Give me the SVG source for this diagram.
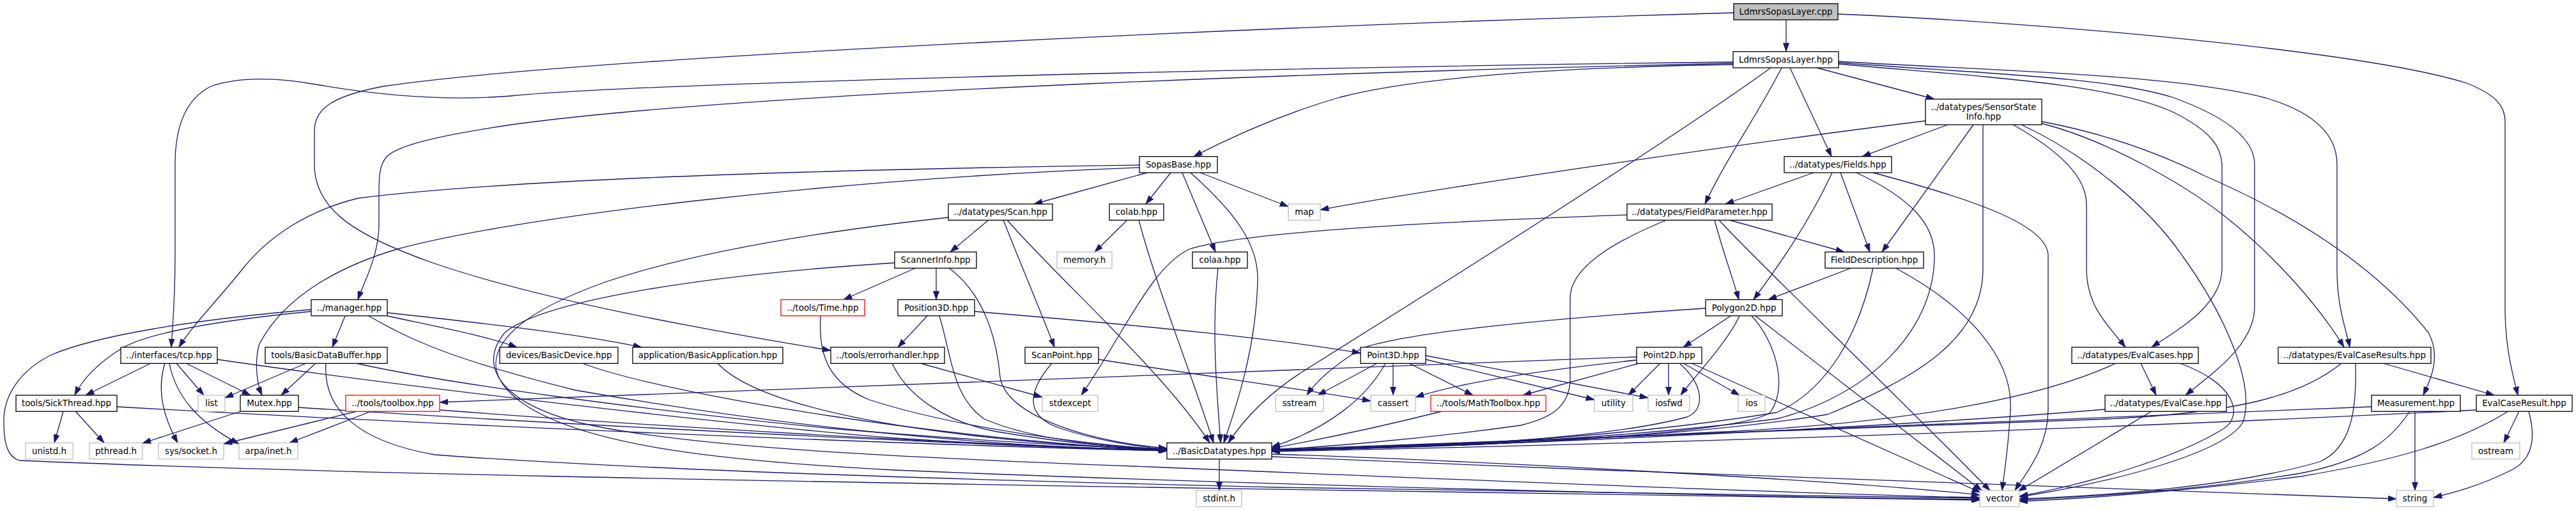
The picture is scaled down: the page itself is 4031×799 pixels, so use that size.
<svg xmlns="http://www.w3.org/2000/svg" width="4031" height="799" viewBox="0 0 4031 799">
<style>
.n rect{fill:#fff;stroke:#000;stroke-width:1.3}
.g rect{fill:#fff;stroke:#bfbfbf;stroke-width:1.3}
.r rect{fill:#fff;stroke:#ff0000;stroke-width:1.3}
.root rect{fill:#bfbfbf;stroke:#000;stroke-width:1.3}
text{font-family:"DejaVu Sans","Liberation Sans",sans-serif;font-size:13.33px;fill:#000;text-anchor:middle}
#edges path{fill:none;stroke:#191970;stroke-width:1.3;marker-end:url(#a)}
</style>
<defs>
<marker id="a" viewBox="0 0 10 7" refX="10" refY="3.5" markerWidth="13.3" markerHeight="9.3" markerUnits="userSpaceOnUse" orient="auto">
<path d="M0,0 L10,3.5 L0,7 z" fill="#191970" stroke="#191970" stroke-width="0.5"/>
</marker>
</defs>
<rect width="4031" height="799" fill="#fff"/>
<g id="edges">
<path d="M2795,31 L2795,80.7"/>
<path d="M2713,20 C2000,40 900,90 600,135 C520,150 492,170 492,205 L492,257 C492,330 560,370 680,412 C850,470 1100,515 1300,548"/>
<path d="M2876,22 C3200,35 3700,80 3860,130 C3905,148 3920,165 3920,190 L3920,480 C3920,545 3932,585 3940,618"/>
<path d="M2712,97 C2000,105 1000,130 800,150 C700,158 600,150 500,133 C440,122 380,118 330,135 C290,155 274,200 274,257 L274,400 C274,470 270,510 268,543"/>
<path d="M2712,99 C2200,110 1200,140 800,195 C700,210 625,225 605,245 C594,258 593,275 593,300 L593,350 C593,400 570,440 560,468.5"/>
<path d="M2712,101 C2400,106 2200,125 2097,152 C2000,180 1925,215 1868,244.7"/>
<path d="M2771,106 C2600,230 2200,480 2040,580 C1990,612 1950,650 1922,692.5"/>
<path d="M2788,106 C2750,180 2700,250 2668,319"/>
<path d="M2801,106 L2866,244.7"/>
<path d="M2843,106 L3027,155"/>
<path d="M2877,96 C3100,110 3400,115 3545,153 C3620,175 3657,210 3657,257 L3657,420 C3657,480 3670,510 3677,543"/>
<path d="M2877,98 C3100,115 3300,120 3402,153 C3490,185 3528,220 3528,257 L3528,480 C3528,540 3460,585 3420,618"/>
<path d="M2877,100 C3100,120 3300,130 3400,175 C3460,205 3477,230 3477,260 L3477,420 C3477,480 3400,520 3367,543"/>
<path d="M3048,195 L2914,244.7"/>
<path d="M3088,195 L2945,394"/>
<path d="M3103,195 L3103,420 C3103,530 3000,590 2860,648 C2600,690 2200,700 1990,704"/>
<path d="M3150,195 C3230,240 3265,280 3265,320 L3265,420 C3265,480 3300,510 3326,543"/>
<path d="M3163,195 C3260,240 3360,320 3415,400 C3480,490 3530,600 3510,660 C3480,710 3300,755 3160,777"/>
<path d="M3013,189 C2800,215 2300,285 2066,328"/>
<path d="M3195,190 C3300,210 3380,240 3450,275 C3600,340 3720,420 3800,520 C3822,560 3800,600 3792,618"/>
<path d="M3195,193 C3300,220 3420,290 3480,337 C3560,400 3630,480 3668,543"/>
<path d="M2838,270 L2700,319"/>
<path d="M2867,270 C2830,350 2780,420 2744,468.5"/>
<path d="M2880,270 L2926,394"/>
<path d="M2905,270 C2990,310 3027,350 3027,400 C3027,520 2920,620 2780,655 C2500,690 2200,700 1990,705"/>
<path d="M2931,270 C3080,310 3205,350 3205,400 L3205,640 C3205,700 3170,740 3153,767"/>
<path d="M2706,344 L2886,394"/>
<path d="M2683,344 C2695,390 2710,430 2721,468.5"/>
<path d="M2690,344 C2720,380 2950,600 3114,767"/>
<path d="M2608,344 C2520,380 2457,420 2457,466 L2457,592 C2457,640 2420,655 2380,665 C2200,690 2050,700 1990,703"/>
<path d="M2546,336 C2300,345 1950,360 1860,390 C1800,420 1760,520 1692,618"/>
<path d="M2897,419 L2767,468.5"/>
<path d="M2931,419 C2910,520 2860,610 2780,645 C2500,690 2200,700 1990,703"/>
<path d="M2966,419 C3080,480 3150,560 3146,640 C3143,700 3136,740 3133,767"/>
<path d="M2708,494 L2634,543"/>
<path d="M2722,494 C2700,540 2650,590 2630,618"/>
<path d="M2741,494 C2775,530 2800,600 2770,645 C2720,680 2300,700 1990,704"/>
<path d="M2747,494 L3101,767"/>
<path d="M2669,482 C2400,500 2200,520 2130,545 C2090,570 2060,595 2045,618"/>
<path d="M2561,558 C2300,570 1500,600 688,629"/>
<path d="M2561,563 C2400,580 2280,600 2215,621"/>
<path d="M2565,568 L2383,618"/>
<path d="M2598,568 L2548,618"/>
<path d="M2611,568 L2611,618"/>
<path d="M2628,568 C2665,600 2670,640 2640,652 C2500,690 2200,700 1990,705"/>
<path d="M2634,568 L2722,618"/>
<path d="M2647,568 L3099,770"/>
<path d="M2155,568 L2062,618"/>
<path d="M2168,568 C2140,620 2080,670 1990,699"/>
<path d="M2180,568 L2180,618"/>
<path d="M2205,568 L2305,618"/>
<path d="M2231,562 L2495,625"/>
<path d="M2231,556 L2579,622"/>
<path d="M2257,643 C2150,670 2050,690 1990,701"/>
<path d="M1525,487 C1800,510 2000,530 2129,552"/>
<path d="M1451,494 L1405,543"/>
<path d="M1470,494 C1490,560 1490,620 1540,655 C1620,690 1750,700 1826,702"/>
<path d="M1433,419 L1320,468.5"/>
<path d="M1465,419 L1465,468.5"/>
<path d="M1485,419 C1540,460 1560,530 1565,590 C1575,650 1700,690 1826,701"/>
<path d="M1400,411 C1100,430 850,470 790,520 C740,580 800,640 930,666 C1100,700 1400,715 1800,730 C2400,755 2900,775 3098,778"/>
<path d="M1547,344 L1487,394"/>
<path d="M1570,344 C1600,420 1630,490 1650,543"/>
<path d="M1576,344 C1650,430 1820,580 1893,692.5"/>
<path d="M1484,340 C1300,360 1100,390 950,440 C780,500 730,570 820,632 C920,700 1150,722 1400,735 C2000,760 2800,778 3098,781"/>
<path d="M1795,270 L1618,319"/>
<path d="M1832,270 L1793,319"/>
<path d="M1850,270 L1902,394"/>
<path d="M1863,270 C1930,330 1970,380 1968,440 C1965,540 1940,620 1915,692.5"/>
<path d="M1878,270 L2016,323"/>
<path d="M1783,258 C1300,265 800,280 560,310 C480,330 420,370 380,420 C340,470 300,510 280,543"/>
<path d="M1783,262 C1300,280 800,340 620,390 C520,420 440,470 405,540 C398,570 402,600 410,618"/>
<path d="M1764,344 L1713,394"/>
<path d="M1782,344 C1810,450 1870,600 1899,692.5"/>
<path d="M1906,419 C1895,520 1905,620 1910,692.5"/>
<path d="M1646,568 C1610,610 1600,650 1660,670 C1720,690 1780,698 1826,703"/>
<path d="M1719,562 C1900,590 2050,610 2145,627"/>
<path d="M1440,568 L1631,621"/>
<path d="M1396,568 C1420,620 1480,660 1560,675 C1680,695 1760,700 1826,703"/>
<path d="M1284,494 C1280,560 1300,600 1360,625 C1500,670 1700,695 1826,703"/>
<path d="M540,494 L520,543"/>
<path d="M487,487 C350,500 230,520 190,545 C150,570 128,595 117,618"/>
<path d="M487,484 C300,500 150,525 80,555 C30,580 5,620 6,660 C6,700 15,715 30,720 C500,740 1200,752 1800,762 C2500,772 2900,779 3098,782"/>
<path d="M606,489 C800,510 920,525 1004,543"/>
<path d="M606,494 C680,510 760,525 809,543"/>
<path d="M577,494 C640,530 700,560 900,610 C1300,680 1600,700 1826,704"/>
<path d="M479,568 L352,622"/>
<path d="M494,568 L440,618"/>
<path d="M510,568 C505,640 560,690 680,711 C1000,735 1500,750 2000,762 C2500,772 2900,778 3098,779"/>
<path d="M557,568 C700,600 1000,640 1300,670 C1600,695 1750,700 1826,703"/>
<path d="M236,568 L134,618"/>
<path d="M258,568 C245,610 255,650 278,692.5"/>
<path d="M265,568 C275,620 310,660 374,694"/>
<path d="M276,568 L319,618"/>
<path d="M291,568 L392,618"/>
<path d="M340,562 C600,600 1100,660 1400,685 C1600,698 1750,702 1826,704"/>
<path d="M99,643 L85,692.5"/>
<path d="M118,643 L163,692.5"/>
<path d="M183,636 C700,665 1400,695 1826,705"/>
<path d="M377,643 L223,693"/>
<path d="M467,637 C900,665 1500,695 1826,705"/>
<path d="M559,643 L350,694"/>
<path d="M581,643 L453,692.5"/>
<path d="M688,641 C1000,665 1500,695 1826,705"/>
<path d="M911,568 C1050,620 1500,690 1826,704"/>
<path d="M1123,568 C1180,630 1400,685 1826,704"/>
<path d="M1908,718 L1908,767"/>
<path d="M1990,710 C2300,720 2900,752 3098,774"/>
<path d="M1990,714 C2600,740 3300,765 3750,780"/>
<path d="M3350,568 L3374,618"/>
<path d="M3311,568 C3200,620 3000,660 2700,675 C2400,690 2100,700 1990,704"/>
<path d="M3411,568 C3500,600 3510,650 3480,670 C3400,720 3250,760 3160,776"/>
<path d="M3294,640 C3000,665 2400,695 1990,705"/>
<path d="M3367,643 L3158,768"/>
<path d="M3729,568 L3903,618"/>
<path d="M3664,568 C3600,620 3500,645 3300,655 C2700,680 2200,698 1990,703"/>
<path d="M3686,568 C3688,640 3680,700 3630,722 C3500,760 3300,775 3160,780"/>
<path d="M3711,636 C3400,648 2700,680 1990,705"/>
<path d="M3771,643 C3740,690 3700,720 3600,740 C3450,765 3300,775 3160,782"/>
<path d="M3779,643 L3779,767"/>
<path d="M3875,641 C3500,660 2800,690 1990,706"/>
<path d="M3925,643 C3850,690 3750,720 3600,745 C3400,770 3250,780 3160,784"/>
<path d="M3942,643 L3918,692.5"/>
<path d="M3957,643 C3970,690 3960,720 3930,735 C3880,760 3840,770 3808,778"/>
</g>
<g id="nodes">
<g id="node-cpp" class="root"><rect x="2713" y="5.7" width="163" height="25.3"/><text x="2794.5" y="23">LdmrsSopasLayer.cpp</text></g>
<g id="node-hpp" class="n"><rect x="2712" y="80.7" width="165" height="25.3"/><text x="2794.5" y="98">LdmrsSopasLayer.hpp</text></g>
<g id="node-ssi" class="n"><rect x="3013" y="155" width="182" height="40"/><text x="3104" y="171.5">../datatypes/SensorState</text><text x="3104" y="186.5">Info.hpp</text></g>
<g id="node-fields" class="n"><rect x="2792" y="244.7" width="168" height="25.3"/><text x="2876" y="262">../datatypes/Fields.hpp</text></g>
<g id="node-sopas" class="n"><rect x="1783" y="244.7" width="122" height="25.3"/><text x="1844" y="262">SopasBase.hpp</text></g>
<g id="node-fparam" class="n"><rect x="2546" y="319" width="227" height="25.3"/><text x="2659.5" y="336.3">../datatypes/FieldParameter.hpp</text></g>
<g id="node-scan" class="n"><rect x="1484" y="319" width="163" height="25.3"/><text x="1565.5" y="336.3">../datatypes/Scan.hpp</text></g>
<g id="node-colab" class="n"><rect x="1736" y="319" width="85" height="25.3"/><text x="1778.5" y="336.3">colab.hpp</text></g>
<g id="node-map" class="g"><rect x="2016" y="319" width="50" height="25.3"/><text x="2041" y="336.3">map</text></g>
<g id="node-fdesc" class="n"><rect x="2856" y="394" width="154" height="25.3"/><text x="2933" y="411.3">FieldDescription.hpp</text></g>
<g id="node-sinfo" class="n"><rect x="1400" y="394" width="128" height="25.3"/><text x="1464" y="411.3">ScannerInfo.hpp</text></g>
<g id="node-memory" class="g"><rect x="1654" y="394" width="86" height="25.3"/><text x="1697" y="411.3">memory.h</text></g>
<g id="node-colaa" class="n"><rect x="1866" y="394" width="86" height="25.3"/><text x="1909" y="411.3">colaa.hpp</text></g>
<g id="node-poly" class="n"><rect x="2669" y="468.5" width="120" height="25.3"/><text x="2729" y="485.8">Polygon2D.hpp</text></g>
<g id="node-time" class="r"><rect x="1222" y="468.5" width="131" height="25.3"/><text x="1287.5" y="485.8">../tools/Time.hpp</text></g>
<g id="node-pos3" class="n"><rect x="1405" y="468.5" width="120" height="25.3"/><text x="1465" y="485.8">Position3D.hpp</text></g>
<g id="node-manager" class="n"><rect x="487" y="468.5" width="119" height="25.3"/><text x="546.5" y="485.8">../manager.hpp</text></g>
<g id="node-p2" class="n"><rect x="2561" y="543" width="102" height="25.3"/><text x="2612" y="560.3">Point2D.hpp</text></g>
<g id="node-p3" class="n"><rect x="2129" y="543" width="102" height="25.3"/><text x="2180" y="560.3">Point3D.hpp</text></g>
<g id="node-err" class="n"><rect x="1300" y="543" width="178" height="25.3"/><text x="1389" y="560.3">../tools/errorhandler.hpp</text></g>
<g id="node-spt" class="n"><rect x="1604" y="543" width="115" height="25.3"/><text x="1661.5" y="560.3">ScanPoint.hpp</text></g>
<g id="node-tcp" class="n"><rect x="189" y="543" width="151" height="25.3"/><text x="264.5" y="560.3">../interfaces/tcp.hpp</text></g>
<g id="node-bdb" class="n"><rect x="415" y="543" width="191" height="25.3"/><text x="510.5" y="560.3">tools/BasicDataBuffer.hpp</text></g>
<g id="node-bdev" class="n"><rect x="782" y="543" width="185" height="25.3"/><text x="874.5" y="560.3">devices/BasicDevice.hpp</text></g>
<g id="node-bapp" class="n"><rect x="990" y="543" width="235" height="25.3"/><text x="1107.5" y="560.3">application/BasicApplication.hpp</text></g>
<g id="node-ecs" class="n"><rect x="3242" y="543" width="198" height="25.3"/><text x="3341" y="560.3">../datatypes/EvalCases.hpp</text></g>
<g id="node-ecrs" class="n"><rect x="3565" y="543" width="239" height="25.3"/><text x="3684.5" y="560.3">../datatypes/EvalCaseResults.hpp</text></g>
<g id="node-sick" class="n"><rect x="25" y="618" width="158" height="25.3"/><text x="104" y="635.3">tools/SickThread.hpp</text></g>
<g id="node-list" class="g"><rect x="310" y="618" width="42" height="25.3"/><text x="331" y="635.3">list</text></g>
<g id="node-mutex" class="n"><rect x="376" y="618" width="91" height="25.3"/><text x="421.5" y="635.3">Mutex.hpp</text></g>
<g id="node-toolbox" class="r"><rect x="541" y="618" width="147" height="25.3"/><text x="614.5" y="635.3">../tools/toolbox.hpp</text></g>
<g id="node-stdexcept" class="g"><rect x="1631" y="618" width="87" height="25.3"/><text x="1674.5" y="635.3">stdexcept</text></g>
<g id="node-sstream" class="g"><rect x="1996" y="618" width="75" height="25.3"/><text x="2033.5" y="635.3">sstream</text></g>
<g id="node-cassert" class="g"><rect x="2145" y="618" width="70" height="25.3"/><text x="2180" y="635.3">cassert</text></g>
<g id="node-math" class="r"><rect x="2239" y="618" width="180" height="25.3"/><text x="2329" y="635.3">../tools/MathToolbox.hpp</text></g>
<g id="node-utility" class="g"><rect x="2495" y="618" width="60" height="25.3"/><text x="2525" y="635.3">utility</text></g>
<g id="node-iosfwd" class="g"><rect x="2579" y="618" width="65" height="25.3"/><text x="2611.5" y="635.3">iosfwd</text></g>
<g id="node-ios" class="g"><rect x="2720" y="618" width="42" height="25.3"/><text x="2741" y="635.3">ios</text></g>
<g id="node-ec" class="n"><rect x="3294" y="618" width="190" height="25.3"/><text x="3389" y="635.3">../datatypes/EvalCase.hpp</text></g>
<g id="node-meas" class="n"><rect x="3711" y="618" width="139" height="25.3"/><text x="3780.5" y="635.3">Measurement.hpp</text></g>
<g id="node-ecr" class="n"><rect x="3875" y="618" width="150" height="25.3"/><text x="3950" y="635.3">EvalCaseResult.hpp</text></g>
<g id="node-unistd" class="g"><rect x="40" y="692.5" width="74" height="25.3"/><text x="77" y="709.8">unistd.h</text></g>
<g id="node-pthread" class="g"><rect x="140" y="692.5" width="83" height="25.3"/><text x="181.5" y="709.8">pthread.h</text></g>
<g id="node-socket" class="g"><rect x="248" y="692.5" width="102" height="25.3"/><text x="299" y="709.8">sys/socket.h</text></g>
<g id="node-inet" class="g"><rect x="374" y="692.5" width="92" height="25.3"/><text x="420" y="709.8">arpa/inet.h</text></g>
<g id="node-bdt" class="n"><rect x="1826" y="692.5" width="164" height="25.3"/><text x="1908" y="709.8">../BasicDatatypes.hpp</text></g>
<g id="node-ostream" class="g"><rect x="3868" y="692.5" width="75" height="25.3"/><text x="3905.5" y="709.8">ostream</text></g>
<g id="node-stdint" class="g"><rect x="1872" y="767" width="71" height="25.3"/><text x="1907.5" y="784.3">stdint.h</text></g>
<g id="node-vector" class="g"><rect x="3098" y="767" width="62" height="25.3"/><text x="3129" y="784.3">vector</text></g>
<g id="node-string" class="g"><rect x="3750" y="767" width="58" height="25.3"/><text x="3779" y="784.3">string</text></g>
</g>
</svg>
